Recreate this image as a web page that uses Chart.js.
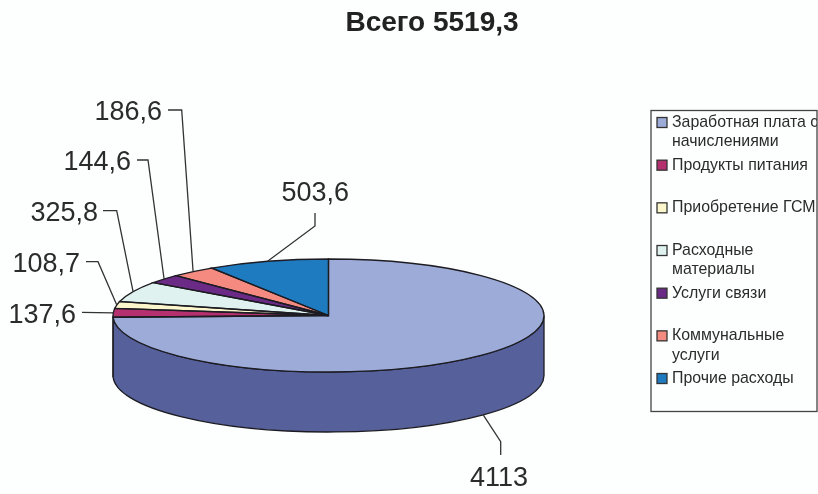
<!DOCTYPE html>
<html lang="ru">
<head>
<meta charset="utf-8">
<title>Всего 5519,3</title>
<script src="https://cdn.jsdelivr.net/npm/chart.js@4"></script>
<style>
  html, body { margin: 0; padding: 0; background: #fdfefe; }
  canvas { display: block; }
</style>
</head>
<body>
<canvas id="pie" width="818" height="494"></canvas>
<script>
// Expense structure, thousands
const heading = 'Всего 5519,3';
const categories = [
  ['Заработная плата с', 'начислениями'],
  ['Продукты питания'],
  ['Приобретение ГСМ'],
  ['Расходные', 'материалы'],
  ['Услуги связи'],
  ['Коммунальные', 'услуги'],
  ['Прочие расходы']
];
const amounts = [4113, 137.6, 108.7, 325.8, 144.6, 186.6, 503.6];
const amountLabels = ['4113', '137,6', '108,7', '325,8', '144,6', '186,6', '503,6'];
const topColors = ['#9dabd8', '#b5306f', '#fbf6cc', '#e0f2ef', '#6a2a86', '#f58b80', '#1f7bbf'];
const wallColors = ['#56609b', '#7d2150', '#b0ab8c', '#9ca9a7', '#4a1d5e', '#ab6159', '#155685'];

// Disc projection
const DISC = { cy: 315.5, ry: 56.5, depth: 60 };
const INK = '#2b2b2b';

// Callout placement per slice: right edge and middle of the text, then the elbow
const callouts = [
  { right: 528, mid: 479, elbow: [[500.7, 441.7], [500.7, 455]] },
  { right: 76,  mid: 315.5, elbow: [[82, 312.3]] },
  { right: 80,  mid: 264.5, elbow: [[98, 261.7], [86, 261.7]] },
  { right: 98,  mid: 213.5, elbow: [[116.7, 210.7], [103, 210.7]] },
  { right: 131, mid: 162.5, elbow: [[148, 160], [137, 160]] },
  { right: 162, mid: 112.5, elbow: [[181.7, 110], [168, 110]] },
  { right: 349, mid: 193.5, elbow: [[315, 226], [315, 213]] }
];

const legendBox = { left: 651, top: 110.5, right: 817, bottom: 411.5, textX: 672, swatchX: 657, swatch: 10, firstRow: 122.5, rowStep: 42.67, lineStep: 19.6 };

const arcProps = arc => arc.getProps(['x', 'y', 'startAngle', 'endAngle', 'outerRadius'], true);

const discPlugin = {
  id: 'disc',
  beforeDatasetsDraw(chart) {
    const ctx = chart.ctx;
    const arcs = chart.getDatasetMeta(0).data;
    // Side wall: only the near half of the rim faces the viewer
    arcs.forEach((arc, i) => {
      const p = arcProps(arc);
      const a = Math.max(p.startAngle, 0);
      const b = Math.min(p.endAngle, Math.PI);
      if (b <= a) return;
      ctx.beginPath();
      ctx.ellipse(p.x, DISC.cy, p.outerRadius, DISC.ry, 0, a, b);
      ctx.ellipse(p.x, DISC.cy + DISC.depth, p.outerRadius, DISC.ry, 0, b, a, true);
      ctx.closePath();
      ctx.fillStyle = wallColors[i];
      ctx.fill();
      ctx.strokeStyle = '#1c1c22';
      ctx.lineWidth = 1.3;
      ctx.stroke();
    });
    // The library's slices are flattened into the top face of the disc
    const p0 = arcProps(arcs[0]);
    ctx.save();
    ctx.translate(0, DISC.cy);
    ctx.scale(1, DISC.ry / p0.outerRadius);
    ctx.translate(0, -p0.y);
  },
  afterDatasetsDraw(chart) {
    const ctx = chart.ctx;
    ctx.restore();
    const arcs = chart.getDatasetMeta(0).data;

    // Slice outlines at an even line width
    arcs.forEach(arc => {
      const p = arcProps(arc);
      ctx.beginPath();
      ctx.moveTo(p.x, DISC.cy);
      ctx.ellipse(p.x, DISC.cy, p.outerRadius, DISC.ry, 0, p.startAngle, p.endAngle);
      ctx.closePath();
      ctx.strokeStyle = '#1c1c22';
      ctx.lineWidth = 1.3;
      ctx.stroke();
    });

    // Value callouts with leader lines
    ctx.font = '27px "Liberation Sans", Arial, sans-serif';
    ctx.textAlign = 'right';
    ctx.textBaseline = 'middle';
    arcs.forEach((arc, i) => {
      const p = arcProps(arc);
      const mid = (p.startAngle + p.endAngle) / 2;
      const front = mid > 0 && mid < Math.PI;
      const ax = p.x + p.outerRadius * Math.cos(mid);
      const ay = DISC.cy + DISC.ry * Math.sin(mid) + (front ? DISC.depth : 0);
      ctx.beginPath();
      ctx.moveTo(ax, ay);
      callouts[i].elbow.forEach(pt => ctx.lineTo(pt[0], pt[1]));
      ctx.strokeStyle = '#333';
      ctx.lineWidth = 1.3;
      ctx.stroke();
      ctx.fillStyle = INK;
      ctx.fillText(amountLabels[i], callouts[i].right, callouts[i].mid);
    });

    // Heading
    ctx.font = 'bold 28px "Liberation Sans", Arial, sans-serif';
    ctx.textAlign = 'center';
    ctx.fillStyle = '#222';
    ctx.fillText(heading, 432, 23);

    // Legend panel, cut off by its right border
    const L = legendBox;
    ctx.save();
    ctx.beginPath();
    ctx.rect(L.left, L.top, L.right - L.left, L.bottom - L.top);
    ctx.clip();
    ctx.font = '15.9px "Liberation Sans", Arial, sans-serif';
    ctx.textAlign = 'left';
    categories.forEach((lines, i) => {
      const y = L.firstRow + i * L.rowStep;
      ctx.fillStyle = topColors[i];
      ctx.fillRect(L.swatchX, y - L.swatch / 2, L.swatch, L.swatch);
      ctx.strokeStyle = '#333';
      ctx.lineWidth = 1.3;
      ctx.strokeRect(L.swatchX, y - L.swatch / 2, L.swatch, L.swatch);
      ctx.fillStyle = INK;
      lines.forEach((line, k) => ctx.fillText(line, L.textX, y + k * L.lineStep));
    });
    ctx.restore();
    ctx.strokeStyle = '#444';
    ctx.lineWidth = 1.3;
    ctx.strokeRect(L.left, L.top, L.right - L.left, L.bottom - L.top);
  }
};

new Chart(document.getElementById('pie'), {
  type: 'pie',
  data: {
    labels: categories.map(lines => lines.join(' ')),
    datasets: [{
      data: amounts,
      backgroundColor: topColors,
      borderWidth: 0,
      clip: false
    }]
  },
  options: {
    responsive: false,
    animation: false,
    events: [],
    layout: { padding: { left: 113, right: 274, top: 20, bottom: 20 } },
    plugins: { legend: { display: false }, title: { display: false }, tooltip: { enabled: false } }
  },
  plugins: [discPlugin]
});
</script>
</body>
</html>
